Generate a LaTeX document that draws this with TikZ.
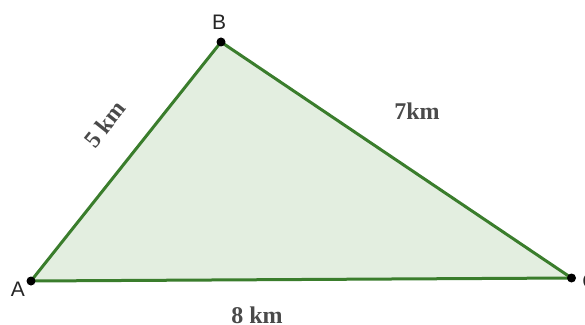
\documentclass[tikz,border=0pt]{standalone}
\usepackage{fontspec}
\setmainfont{Liberation Serif}
\newfontfamily\ptfont{Liberation Sans}
\definecolor{edgegreen}{HTML}{3A7D2C}
\definecolor{fillgreen}{HTML}{E3EEE0}
\definecolor{labgray}{HTML}{4A4A4A}
\begin{document}
\begin{tikzpicture}[x=1pt,y=1pt,
  pt/.style={circle,fill=black,inner sep=0pt,minimum size=9pt},
  ptlab/.style={font=\ptfont\fontsize{21}{23}\selectfont,text=black!85,inner sep=0pt},
  dist/.style={font=\bfseries\fontsize{24}{26}\selectfont,text=labgray,inner sep=0pt},
  side/.style={draw=edgegreen,line width=3pt}]
\useasboundingbox (0,0) rectangle (585,324);
\coordinate (A) at (31,43);
\coordinate (B) at (221,282);
\coordinate (C) at (571.5,46);
\fill[fillgreen] (A) -- (B) -- (C) -- cycle;
\draw[side] (A) -- (B);
\draw[side] (B) -- (C);
\draw[side] (C) -- (A);
\node[pt] (pA) at (A) {};
\node[pt] (pB) at (B) {};
\node[pt] (pC) at (C) {};
\node[ptlab] (lA) at (18,35) {A};
\node[ptlab] (lB) at (219,302) {B};
\node[ptlab] (lC) at (590,43) {C};
\node[dist,rotate=51.5] (dAB) at (105,200) {5 km};
\node[dist] (dBC) at (417,213) {7km};
\node[dist] (dAC) at (257,9) {8 km};
\end{tikzpicture}
\end{document}
